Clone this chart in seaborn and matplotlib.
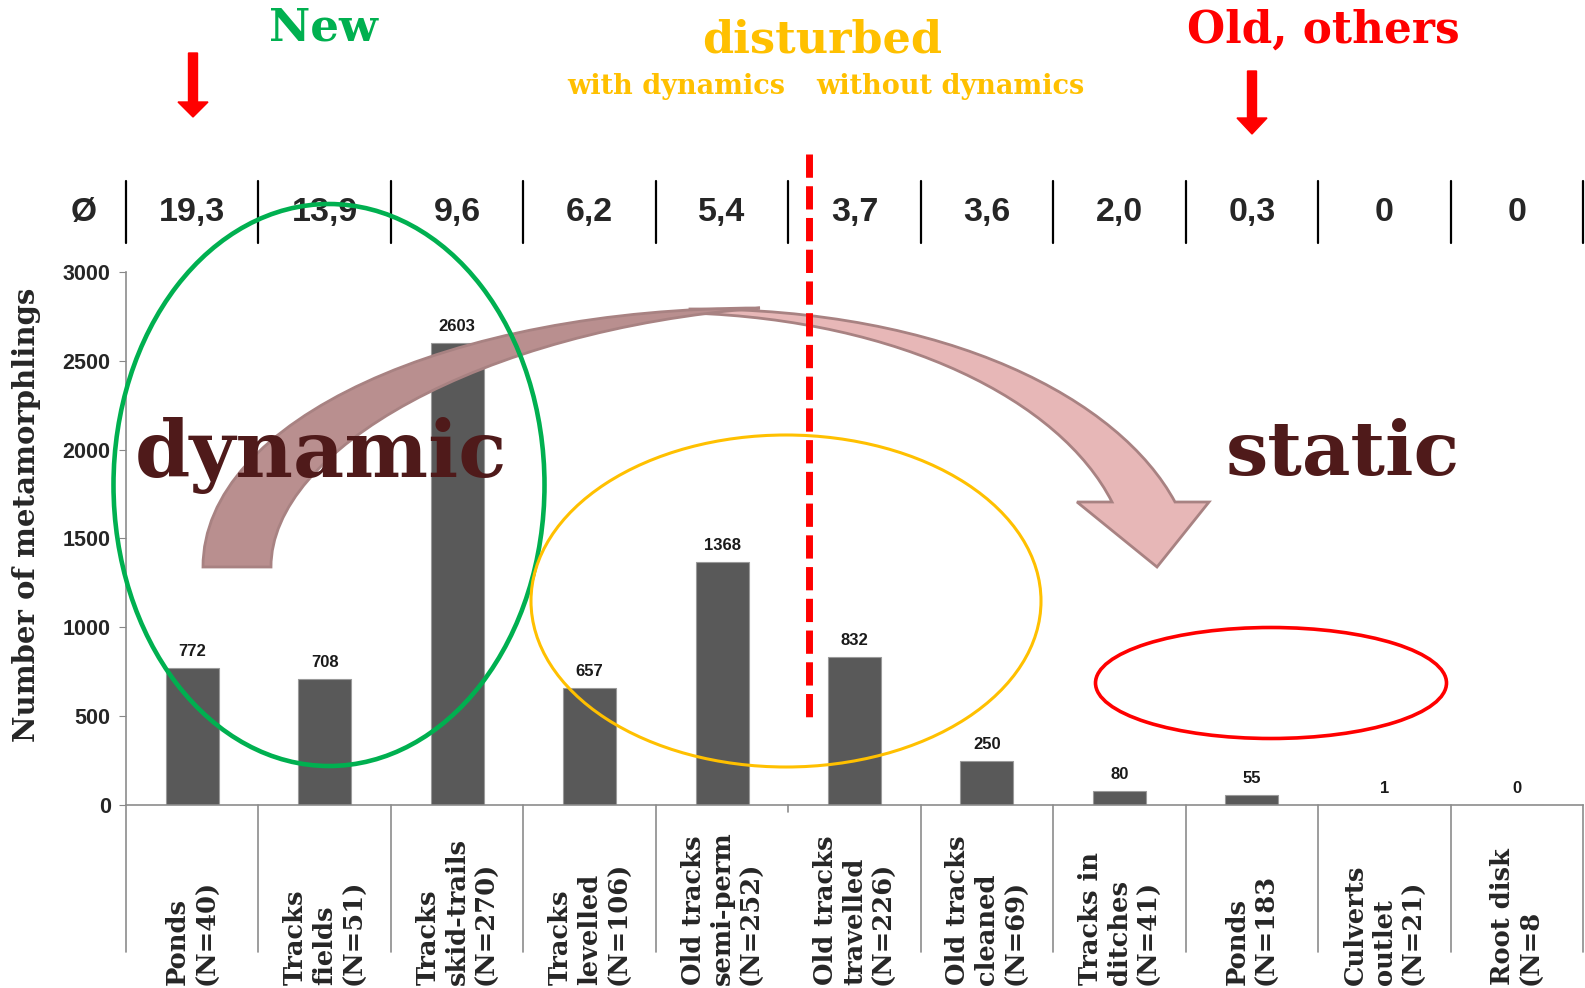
import numpy as np
import matplotlib
matplotlib.use("Agg")
import matplotlib.pyplot as plt
import seaborn as sns
from matplotlib.patches import Ellipse, PathPatch
from matplotlib.path import Path
from matplotlib.transforms import blended_transform_factory

# data
categories = ["Ponds\n(N=40)", "Tracks\nfields\n(N=51)", "Tracks\nskid-trails\n(N=270)",
              "Tracks\nlevelled\n(N=106)", "Old tracks\nsemi-perm\n(N=252)",
              "Old tracks\ntravelled\n(N=226)", "Old tracks\ncleaned\n(N=69)",
              "Tracks in\nditches\n(N=41)", "Ponds\n(N=183", "Culverts\noutlet\n(N=21)",
              "Root disk\n(N=8"]
metamorphs = [772, 708, 2603, 657, 1368, 832, 250, 80, 55, 1, 0]
mean_row = ["19,3", "13,9", "9,6", "6,2", "5,4", "3,7", "3,6", "2,0", "0,3", "0", "0"]
yticks = [0, 500, 1000, 1500, 2000, 2500, 3000]

W, H = 1585, 988
SERIF = "DejaVu Serif"
SANS = ["Liberation Sans Narrow", "Liberation Sans"]

sns.set_style("white")
plt.rcParams["font.family"] = ["Liberation Sans", "DejaVu Sans"]

fig = plt.figure(figsize=(W / 100, H / 100), dpi=100)
ax = fig.add_axes([126 / W, 1 - 805 / H, (1583 - 126) / W, (805 - 272) / H])

sns.barplot(x=categories, y=metamorphs, color="#595959", width=0.4, saturation=1,
            edgecolor="#9a9a9a", linewidth=0.8, ax=ax)
ax.bar_label(ax.containers[0], padding=6.5, fontsize=12, fontweight="bold", color="#1a1a1a")

ax.set_xlim(-0.5, len(categories) - 0.5)
ax.set_ylim(0, 3000)
ax.set_yticks(yticks)
ax.set_yticklabels([str(t) for t in yticks], fontsize=15.5, fontweight="bold")
ax.tick_params(axis="y", direction="out", length=5, color="#888888", left=True, pad=6)
ax.tick_params(axis="x", bottom=False, labelbottom=False)
ax.set_xlabel("")
ax.set_ylabel("")
sns.despine(ax=ax, top=True, right=True)
for s in ["left", "bottom"]:
    ax.spines[s].set_color("#8c8c8c")
    ax.spines[s].set_linewidth(1.2)

# overlay in pixel coordinates for the slide decorations
ov = fig.add_axes([0, 0, 1, 1], zorder=5)
ov.set_xlim(0, W)
ov.set_ylim(H, 0)
ov.axis("off")
ov.patch.set_alpha(0)

bx = blended_transform_factory(ax.transData, ov.transData)

# category separators below the axis and table separators above
for i in range(len(categories) + 1):
    b = i - 0.5
    if i == 5:
        ax.plot([b, b], [805, 812], transform=bx, color="#8c8c8c", lw=1.2, clip_on=False)
    else:
        ax.plot([b, b], [805, 952], transform=bx, color="#8c8c8c", lw=1.2, clip_on=False)
    ax.plot([b, b], [181, 243], transform=bx, color="black", lw=1.6, clip_on=False)

# category labels, rotated, starting at the bottom edge
for i, lab in enumerate(categories):
    ax.text(i, 985, lab, transform=bx, rotation=90, ha="center", va="bottom",
            multialignment="left", fontsize=18.5, fontweight="bold", family=SERIF,
            linespacing=1.2, clip_on=False)

# table row of means
ov.text(84, 212, "Ø", ha="center", va="center", fontsize=24, fontweight="bold", family=SANS)
for i, v in enumerate(mean_row):
    ax.text(i, 212, v, transform=bx, ha="center", va="center", fontsize=24.5,
            fontweight="bold", family=SANS)

fig.text(27 / W, 1 - 515 / H, "Number of metamorphlings", rotation=90, ha="center",
         va="center", fontsize=21, fontweight="bold", family=SERIF)

# curved arrow (two ribbons)
light = Path([(690, 309), (950, 308), (1120, 400), (1175, 502), (1209, 502), (1157, 567),
              (1077, 502), (1112, 502), (1060, 400), (900, 320), (690, 313), (690, 309)],
             [Path.MOVETO, Path.CURVE4, Path.CURVE4, Path.CURVE4, Path.LINETO, Path.LINETO,
              Path.LINETO, Path.LINETO, Path.CURVE4, Path.CURVE4, Path.CURVE4, Path.CLOSEPOLY])
dark = Path([(203, 567), (203, 420), (450, 308), (760, 308), (480, 330), (271, 450),
             (271, 567), (203, 567)],
            [Path.MOVETO, Path.CURVE4, Path.CURVE4, Path.CURVE4, Path.CURVE4, Path.CURVE4,
             Path.CURVE4, Path.CLOSEPOLY])
ov.add_patch(PathPatch(light, facecolor="#e7b7b7", edgecolor="#a88282", lw=2))
ov.add_patch(PathPatch(dark, facecolor="#b98f8f", edgecolor="#a88282", lw=2))

# ellipses and divider
ov.add_patch(Ellipse((329, 485), 431, 562, fill=False, edgecolor="#00b050", lw=3.3))
ov.add_patch(Ellipse((786, 601), 510, 332, fill=False, edgecolor="#ffc000", lw=2.2))
ov.add_patch(Ellipse((1271, 683), 351, 111, fill=False, edgecolor="#ff0000", lw=2.6))
ov.plot([809, 809], [154, 717], color="#ff0000", lw=5, dashes=(3.35, 1.22))

# headers and arrows
ov.text(323, 28, "New", color="#00b050", fontsize=32.5, fontweight="bold", family=SERIF,
        ha="center", va="center")
ov.text(822, 40, "disturbed", color="#ffc000", fontsize=32, fontweight="bold", family=SERIF,
        ha="center", va="center")
ov.text(676, 86, "with dynamics", color="#ffc000", fontsize=19.5, fontweight="bold",
        family=SERIF, ha="center", va="center")
ov.text(950, 86, "without dynamics", color="#ffc000", fontsize=19.5, fontweight="bold",
        family=SERIF, ha="center", va="center")
ov.text(1323, 30, "Old, others", color="#ff0000", fontsize=31.5, fontweight="bold",
        family=SERIF, ha="center", va="center")
ov.arrow(193, 53, 0, 64, width=9, head_width=30, head_length=15,
         length_includes_head=True, color="#ff0000")
ov.arrow(1252, 71, 0, 63, width=9, head_width=30, head_length=16,
         length_includes_head=True, color="#ff0000")

ov.text(321, 477, "dynamic", color="#4f1a1a", fontsize=57, fontweight="bold", family=SERIF,
        ha="center", va="baseline")
ov.text(1343, 475, "static", color="#4f1a1a", fontsize=54, fontweight="bold", family=SERIF,
        ha="center", va="baseline")

fig.savefig("out.png", dpi=100)
